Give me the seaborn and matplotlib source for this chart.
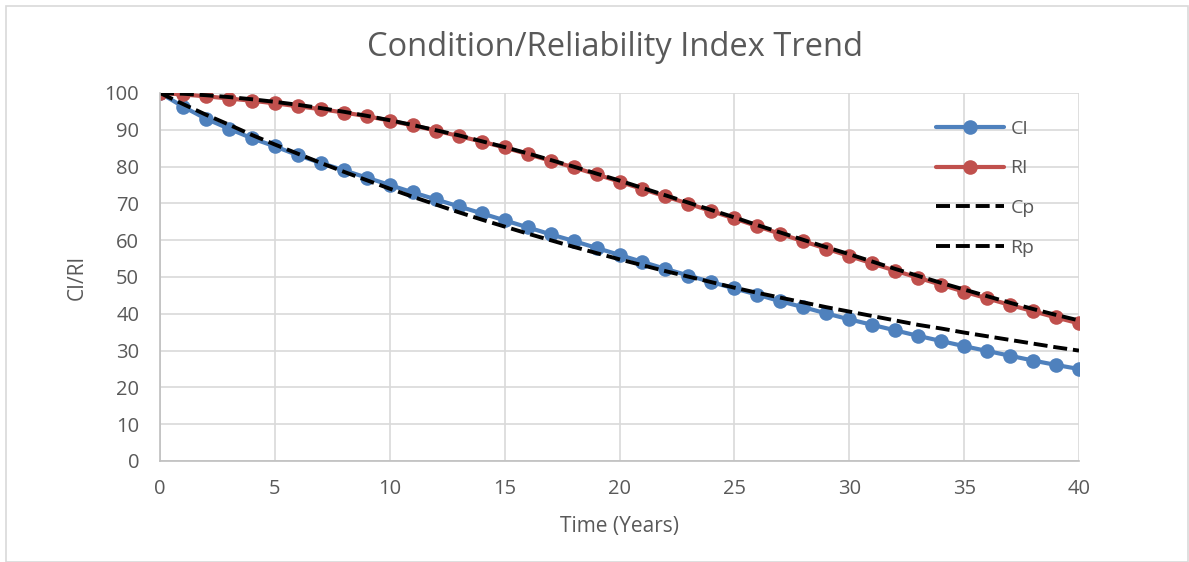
import matplotlib
matplotlib.use("Agg")
import matplotlib.pyplot as plt
import seaborn as sns
import pandas as pd
from matplotlib.patches import Rectangle

years = list(range(0, 41))
ci = [100, 96.3, 93.0, 90.3, 87.7, 85.5, 83.1, 81.0, 79.0, 77.0,
      75.0, 73.0, 71.1, 69.2, 67.3, 65.4, 63.5, 61.6, 59.8, 57.9,
      56.0, 54.1, 52.2, 50.4, 48.6, 46.9, 45.2, 43.4, 41.8, 40.1,
      38.5, 37.0, 35.5, 34.0, 32.6, 31.2, 29.9, 28.6, 27.3, 26.1, 25.0]
ri = [100, 99.6, 99.1, 98.5, 97.9, 97.2, 96.4, 95.6, 94.7, 93.7,
      92.5, 91.2, 89.8, 88.3, 86.8, 85.2, 83.4, 81.6, 79.8, 77.9,
      75.9, 73.9, 71.9, 69.9, 67.9, 65.9, 63.8, 61.7, 59.7, 57.7,
      55.7, 53.7, 51.7, 49.8, 47.9, 46.0, 44.2, 42.4, 40.7, 39.0, 37.4]
cp = [100, 97.0, 94.1, 91.4, 88.6, 86.0, 83.5, 81.0, 78.6, 76.3,
      74.0, 71.8, 69.7, 67.6, 65.6, 63.7, 61.8, 60.0, 58.2, 56.5,
      54.8, 53.2, 51.6, 50.1, 48.6, 47.1, 45.7, 44.4, 43.1, 41.8,
      40.6, 39.4, 38.2, 37.0, 36.0, 34.9, 33.9, 32.9, 31.9, 30.9, 30.0]
rp = [100, 99.8, 99.4, 98.9, 98.3, 97.6, 96.8, 95.9, 94.9, 93.8,
      92.6, 91.3, 89.9, 88.5, 86.9, 85.3, 83.6, 81.8, 80.0, 78.1,
      76.2, 74.2, 72.2, 70.2, 68.2, 66.2, 64.1, 62.1, 60.1, 58.1,
      56.2, 54.2, 52.2, 50.3, 48.4, 46.6, 44.8, 43.0, 41.3, 39.7, 38.2]
x_ticks = [0, 5, 10, 15, 20, 25, 30, 35, 40]
y_ticks = [0, 10, 20, 30, 40, 50, 60, 70, 80, 90, 100]

sns.set_theme(style="white")
plt.rcParams['font.family'] = ['Open Sans', 'DejaVu Sans']

txt = "#595959"
grid = "#d9d9d9"

fig = plt.figure(figsize=(11.89, 5.62), dpi=100)
ax = fig.add_axes([160/1189, 1-461/562, (1079-160)/1189, (461-93)/562])

df = pd.DataFrame({"Year": years, "CI": ci, "RI": ri, "Cp": cp, "Rp": rp})

sns.lineplot(data=df, x="Year", y="CI", ax=ax, color="#4f81bd", lw=3,
             marker="o", markersize=10.5, markeredgewidth=0, label="CI")
sns.lineplot(data=df, x="Year", y="RI", ax=ax, color="#c0504d", lw=3,
             marker="o", markersize=10.5, markeredgewidth=0, label="RI")
sns.lineplot(data=df, x="Year", y="Cp", ax=ax, color="black", lw=2.8,
             linestyle=(0, (3.6, 1.5)), label="Cp")
sns.lineplot(data=df, x="Year", y="Rp", ax=ax, color="black", lw=2.8,
             linestyle=(0, (3.6, 1.5)), label="Rp")

ax.set_xlim(0, 40)
ax.set_ylim(0, 100)
ax.set_xticks(x_ticks)
ax.set_yticks(y_ticks)
ax.grid(True, color=grid, lw=1.2)
ax.set_axisbelow(True)
for s in ["top", "right"]:
    ax.spines[s].set_visible(False)
for s in ["left", "bottom"]:
    ax.spines[s].set_color("#bfbfbf")
    ax.spines[s].set_linewidth(1.2)
ax.tick_params(axis="both", colors=txt, labelsize=14.5, length=0)
ax.tick_params(axis="x", pad=13)
ax.tick_params(axis="y", pad=15)
ax.set_xlabel("Time (Years)", color=txt, fontsize=15, labelpad=12)
ax.set_ylabel("CI/RI", color=txt, fontsize=15, labelpad=12)

fig.text(615/1189, 1-48/562, "Condition/Reliability Index Trend", ha="center",
         va="center", color=txt, fontsize=23.5)

leg = ax.legend(loc="upper left", bbox_to_anchor=(0.825, 0.975), frameon=False,
                fontsize=14, labelspacing=1.12, handlelength=3.5,
                handletextpad=0.35, labelcolor=txt)

fig.patches.append(Rectangle((6/1189, 0), 1-7/1189, 1-6/562, transform=fig.transFigure,
                             fill=False, edgecolor="#d9d9d9", lw=1.2))

fig.savefig("out.png", dpi=100)
